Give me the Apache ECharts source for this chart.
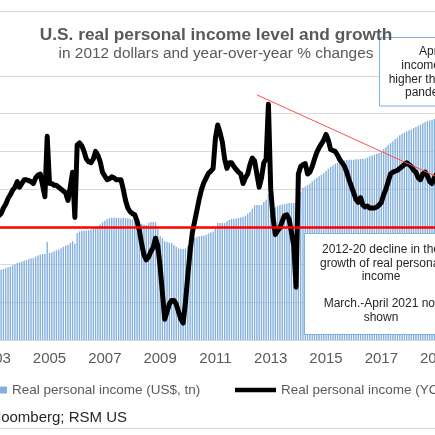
<!DOCTYPE html>
<html>
<head>
<meta charset="utf-8">
<script src="https://cdn.jsdelivr.net/npm/echarts@6/dist/echarts.min.js"></script>
<style>
  html, body { margin: 0; padding: 0; background: #fff; }
  #chart { width: 435px; height: 435px; }
</style>
</head>
<body>
<div id="chart"></div>
<script>
// --- Data (monthly, Jan 2003 .. Mar 2019) ---
var START_YEAR = 2003;
var N_MONTHS = 195;

// Real personal income level, US$ tn (2012 dollars)
var incomeLevel = [
  11.80, 11.82, 11.84, 11.86, 11.88, 11.90, 11.93, 11.95, 11.98, 12.00,
  12.04, 12.06, 12.08, 12.10, 12.12, 12.14, 12.16, 12.17, 12.21, 12.24,
  12.26, 12.28, 12.28, 12.60, 12.31, 12.32, 12.35, 12.38, 12.40, 12.43,
  12.47, 12.50, 12.52, 12.57, 12.62, 12.55, 12.84, 12.88, 12.89, 12.90,
  12.90, 12.91, 12.93, 12.95, 12.98, 13.01, 13.06, 13.12, 13.16, 13.20,
  13.23, 13.24, 13.24, 13.24, 13.24, 13.23, 13.24, 13.23, 13.22, 13.21,
  13.19, 13.16, 13.13, 13.10, 13.08, 13.06, 13.05, 13.10, 13.13, 13.13,
  13.12, 12.95, 12.75, 12.70, 12.62, 12.60, 12.58, 12.57, 12.52, 12.47,
  12.43, 12.41, 12.41, 12.43, 12.50, 12.58, 12.66, 12.71, 12.73, 12.75,
  12.76, 12.77, 12.79, 12.82, 12.85, 12.88, 13.00, 13.10, 13.10, 13.10,
  13.10, 13.15, 13.18, 13.21, 13.21, 13.22, 13.24, 13.25, 13.27, 13.30,
  13.35, 13.40, 13.48, 13.57, 13.58, 13.58, 13.58, 13.66, 13.72, 13.87,
  13.48, 13.50, 13.52, 13.55, 13.58, 13.59, 13.60, 13.62, 13.63, 13.63,
  13.63, 13.65, 13.85, 13.93, 14.04, 14.07, 14.11, 14.15, 14.21, 14.26,
  14.30, 14.34, 14.38, 14.43, 14.48, 14.54, 14.59, 14.63, 14.67, 14.70,
  14.73, 14.75, 14.76, 14.77, 14.78, 14.78, 14.78, 14.79, 14.79, 14.80,
  14.80, 14.81, 14.84, 14.87, 14.89, 14.92, 14.94, 14.96, 14.99, 15.06,
  15.12, 15.18, 15.22, 15.27, 15.33, 15.37, 15.43, 15.46, 15.50, 15.53,
  15.56, 15.58, 15.62, 15.65, 15.68, 15.71, 15.75, 15.78, 15.81, 15.82,
  15.84, 15.86, 15.88, 15.90, 15.92
];

// Real personal income, YOY % change
var incomeYoY = [
  0.3, 0.4, 0.6, 0.7, 1.0, 1.2, 1.5, 1.7, 1.95, 2.1,
  2.4, 2.1, 2.3, 2.5, 2.5, 2.45, 2.4, 2.3, 2.6, 2.75,
  2.8, 2.2, 1.6, 4.8, 2.3, 2.3, 2.2, 2.2, 2.1, 2.0,
  1.9, 1.8, 1.4, 2.1, 2.9, 0.5, 4.35, 4.45, 4.3, 4.0,
  3.6, 3.45, 3.4, 3.6, 4.0, 3.8, 3.45, 2.9, 2.7, 2.5,
  2.55, 2.65, 2.6, 2.5, 2.5, 2.5, 2.0, 1.4, 1.0, 0.8,
  0.7, 0.64, 0.3, -0.2, -0.9, -1.5, -1.75, -1.6, -1.3, -1.1,
  -0.6, -1.0, -2.1, -3.5, -4.9, -4.5, -4.1, -3.9, -3.9, -4.1,
  -4.5, -4.9, -5.1, -4.0, -2.6, -1.3, -0.3, 0.3, 0.9, 1.5,
  2.0, 2.35, 2.6, 2.85, 2.95, 3.1, 4.7, 5.4, 5.0, 4.5,
  3.6, 3.1, 3.4, 3.4, 3.2, 3.05, 2.9, 2.8, 2.3, 2.6,
  2.8, 3.3, 3.65, 3.5, 2.8, 2.1, 2.6, 3.4, 3.6, 6.5,
  2.0, 0.5, -0.4, -0.2, -0.05, 0.3, 0.6, 0.64, 0.4, -0.3,
  -1.0, -3.2, 2.8, 3.2, 3.3, 3.35, 2.8, 2.9, 3.2, 3.6,
  3.95, 4.2, 4.4, 4.6, 4.9, 4.6, 4.1, 4.05, 4.0, 3.8,
  3.55, 3.4, 3.2, 2.9, 2.5, 2.15, 1.8, 1.45, 1.3, 1.55,
  1.15, 1.05, 1.1, 1.0, 1.0, 1.0, 1.05, 1.15, 1.3, 1.7,
  2.0, 2.4, 2.8, 2.9, 2.95, 3.0, 3.1, 3.2, 3.3, 3.4,
  3.3, 3.2, 3.0, 2.9, 2.6, 2.5, 2.8, 2.9, 2.7, 2.4,
  2.3, 2.6, 2.8, 2.9, 3.0
];

// 2012-20 declining-growth trend line (category index, % value)
var trendStart = [114, 7.0];
var trendEnd = [194, 2.55];

var months = [];
for (var i = 0; i < N_MONTHS; i++) {
  var y = START_YEAR + Math.floor(i / 12);
  var m = (i % 12) + 1;
  months.push(y + '-' + (m < 10 ? '0' + m : m));
}

var NAME_LEVEL = 'Real personal income (US$, tn)';
var NAME_YOY = 'Real personal income (YOY % change)';
var FONT = '"Liberation Sans", Arial, sans-serif';
var GREY = '#595959';

var chart = echarts.init(document.getElementById('chart'), null, { renderer: 'canvas' });

chart.setOption({
  animation: false,
  textStyle: { fontFamily: FONT },
  legend: [
    { data: [NAME_LEVEL], left: -5, top: 378, icon: 'rect', itemWidth: 7, itemHeight: 7, itemTextGap: 6,
      textStyle: { fontSize: 13.5, color: GREY, fontFamily: FONT } },
    { data: [NAME_YOY], left: 230, top: 378, icon: 'rect', itemWidth: 41, itemHeight: 4.5,
      textStyle: { fontSize: 13.5, color: GREY, fontFamily: FONT } }
  ],
  grid: { left: -6.95, right: -7.4, top: 76, bottom: 95, containLabel: false, outerBoundsMode: 'none' },
  xAxis: {
    type: 'category',
    data: months,
    boundaryGap: true,
    axisTick: { show: false },
    axisLine: { lineStyle: { color: '#bfbfbf', width: 1 } },
    axisLabel: {
      interval: function (idx, v) { return v.slice(5) === '01' && (+v.slice(0, 4)) % 2 === 1; },
      formatter: function (v) { return v.slice(0, 4); },
      color: GREY, fontSize: 15, margin: 11, fontFamily: FONT
    }
  },
  yAxis: [
    { type: 'value', min: 10, max: 17, interval: 1,
      axisLabel: { show: false }, axisTick: { show: false }, axisLine: { show: false },
      splitLine: { lineStyle: { color: '#d9d9d9', width: 1 } } },
    { type: 'value', min: -6, max: 8, interval: 2,
      axisLabel: { show: false }, axisTick: { show: false }, axisLine: { show: false },
      splitLine: { show: false } }
  ],
  series: [
    {
      name: NAME_LEVEL, type: 'bar', data: incomeLevel, yAxisIndex: 0,
      barWidth: '60%', itemStyle: { color: '#84afdd' }, z: 2,
      markLine: {
        silent: true, symbol: 'none', label: { show: false },
        lineStyle: { color: '#ff0000', width: 2.5, type: 'solid' },
        data: [{ yAxis: 13 }]
      }
    },
    {
      name: NAME_YOY, type: 'line', data: incomeYoY, yAxisIndex: 1,
      symbol: 'none', smooth: false, z: 3,
      itemStyle: { color: '#000' },
      lineStyle: { color: '#000', width: 5, join: 'round', cap: 'round' },
      markLine: {
        silent: true, symbol: 'none', label: { show: false },
        lineStyle: { color: '#ff4d4d', width: 1, type: 'solid' },
        data: [[{ coord: trendStart }, { coord: trendEnd }]]
      }
    }
  ],
  graphic: [
    { type: 'line', shape: { x1: 0, y1: 11.5, x2: 435, y2: 11.5 }, style: { stroke: '#d9d9d9', lineWidth: 1 }, z: 1 },
    { type: 'line', shape: { x1: 0, y1: 428.5, x2: 435, y2: 428.5 }, style: { stroke: '#d9d9d9', lineWidth: 1 }, z: 1 },
    { type: 'rect', shape: { x: 379.5, y: 37.5, width: 110, height: 68.5 },
      style: { fill: '#fff', stroke: '#7fb0de', lineWidth: 1 }, z: 5 },
    { type: 'text', z: 6,
      style: { text: 'April\nincome still\nhigher than pre-\npandemic', x: 431, y: 45,
        align: 'center', verticalAlign: 'top', lineHeight: 13.7,
        font: '12px ' + FONT, fill: '#262626' } },
    { type: 'rect', shape: { x: 304.5, y: 233.5, width: 155, height: 101 },
      style: { fill: '#fff', stroke: '#7fb0de', lineWidth: 1 }, z: 5 },
    { type: 'text', z: 6,
      style: { text: '2012-20 decline in the\ngrowth of real personal\nincome\n\nMarch.-April 2021 not\nshown',
        x: 381, y: 243, align: 'center', verticalAlign: 'top', lineHeight: 13.5,
        font: '12px ' + FONT, fill: '#262626' } },
    { type: 'text', z: 10,
      style: { text: 'U.S. real personal income level and growth', x: 216, y: 35,
        align: 'center', verticalAlign: 'middle',
        font: 'bold 17.3px ' + FONT, fill: GREY } },
    { type: 'text', z: 10,
      style: { text: 'in 2012 dollars and year-over-year % changes', x: 216, y: 54,
        align: 'center', verticalAlign: 'middle',
        font: '15.4px ' + FONT, fill: GREY } },
    { type: 'text', z: 6,
      style: { text: 'Source: Bloomberg; RSM US', x: 127, y: 418, align: 'right', verticalAlign: 'middle',
        font: '15px ' + FONT, fill: '#262626' } }
  ]
});
</script>
</body>
</html>
